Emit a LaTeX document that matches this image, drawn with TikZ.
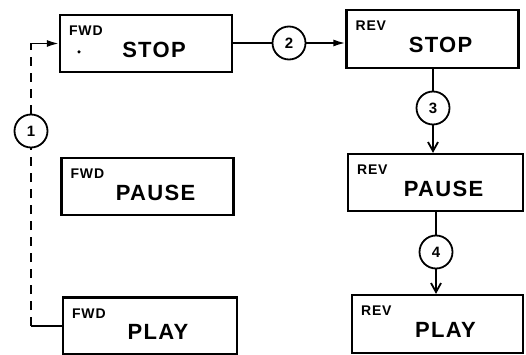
\documentclass[tikz,border=0pt]{standalone}
\usepackage{fontspec}
\setmainfont{Liberation Sans}
\newfontfamily\wordfont[LetterSpace=6]{Liberation Sans}
\usetikzlibrary{arrows.meta, positioning}

\begin{document}
\begin{tikzpicture}[
  x=1pt, y=-1pt,
  modebox/.style={rectangle, draw, line width=2.2pt, minimum width=172pt, minimum height=57pt, inner sep=0pt},
  word/.style={font=\wordfont\bfseries\fontsize{22}{22}\selectfont, inner sep=0pt, anchor=center, xshift=8pt, yshift=-6pt},
  tag/.style={font=\wordfont\bfseries\fontsize{14}{14}\selectfont, inner sep=0pt, anchor=north west, xshift=10pt, yshift=-12pt},
  step circle/.style={circle, draw, line width=1.8pt, minimum size=33pt, inner sep=0pt, font=\bfseries\fontsize{15}{15}\selectfont},
  line/.style={draw, line width=1.8pt},
  solid arrow/.style={-{Latex[length=12pt, width=7pt]}},
  barb arrow/.style={-{Straight Barb[length=9pt, width=10pt]}}
]
\useasboundingbox (0,0) rectangle (526,355);

% Boxes
\node[modebox, label={[tag]north west:FWD}, label={[word]center:STOP}] (fstop) at (146,43.5) {};
\node[modebox, label={[tag]north west:FWD}, label={[word]center:PAUSE}] (fpause) at (147.5,186.5) {};
\node[modebox, minimum width=174pt, label={[tag]north west:FWD}, label={[word]center:PLAY}] (fplay) at (150,326) {};
\node[modebox, minimum height=58pt, label={[tag]north west:REV}, label={[word]center:STOP}] (rstop) at (432.5,39) {};
\node[modebox, minimum width=175pt, label={[tag]north west:REV}, label={[word]center:PAUSE}] (rpause) at (435.5,182.5) {};
\node[modebox, minimum width=171pt, minimum height=58pt, label={[tag]north west:REV}, label={[word]center:PLAY}] (rplay) at (437.5,324) {};
\node[circle, fill, inner sep=0pt, minimum size=3.5pt] (speck) at (79,52) {};

% Circles
\node[step circle] (c1) at (31,131) {1};
\node[step circle] (c2) at (289,43) {2};
\node[step circle] (c3) at (433,108) {3};
\node[step circle] (c4) at (436,252) {4};

% Connections
\coordinate (c1low) at (c1 |- fplay.west);
\coordinate (c1top) at (c1 |- fstop.west);
\draw[line] (fplay.west) -- (c1low);
\draw[line, dash pattern=on 9pt off 7pt] (c1low) -- (c1.south);
\draw[line, dash pattern=on 9pt off 7pt] (c1.north) -- ([yshift=-4pt]c1top);
\draw[line, solid arrow] ([yshift=-4pt]c1top) |- (fstop.west);

\draw[line] (fstop.east |- c2) -- (c2);
\draw[line, solid arrow] (c2) -- (c2 -| rstop.west);

\draw[line] (c3 |- rstop.south) -- (c3);
\draw[line, barb arrow] (c3) -- (c3 |- rpause.north);

\draw[line] (c4 |- rpause.south) -- (c4);
\draw[line, barb arrow] (c4) -- (c4 |- rplay.north);

\end{tikzpicture}
\end{document}
